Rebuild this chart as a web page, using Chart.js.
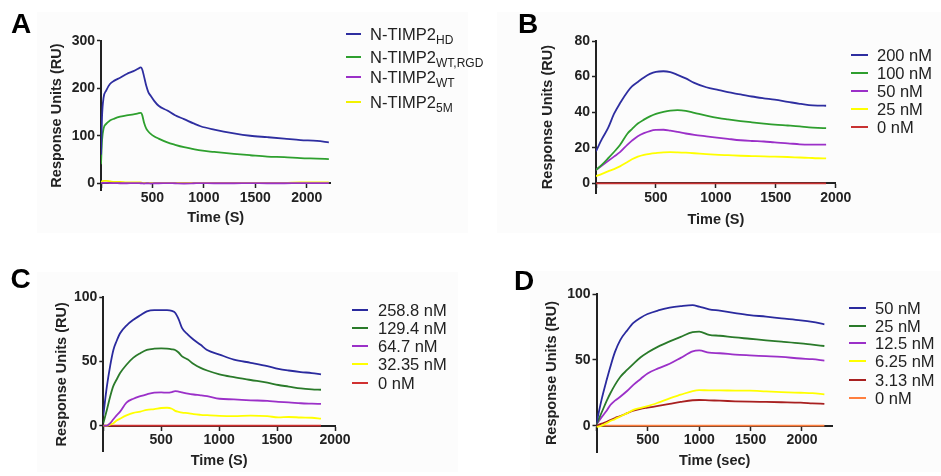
<!DOCTYPE html>
<html><head><meta charset="utf-8">
<script src="https://cdn.jsdelivr.net/npm/chart.js@4.4.0/dist/chart.umd.min.js"></script>
<style>
html,body{margin:0;padding:0;background:#fff;}
#wrap{position:relative;width:941px;height:476px;overflow:hidden;font-family:'Liberation Sans',Arial,sans-serif;background:#fff;}
canvas{position:absolute;left:0;top:0;}
.bg{position:absolute;background:#fcfcfc;}
.letter{position:absolute;font-weight:bold;font-size:28px;line-height:28px;color:#000;}
.row{position:absolute;font-size:16.5px;line-height:20px;height:20px;color:#222;white-space:nowrap;}
.sw{position:absolute;height:2px;}
.row sub{font-size:12px;vertical-align:-4px;line-height:0;}
</style></head>
<body>
<div id="wrap">
  <div class="bg" style="left:37px;top:12px;width:431px;height:221px"></div>
  <div class="bg" style="left:497px;top:12px;width:444px;height:221px"></div>
  <div class="bg" style="left:37px;top:272px;width:421px;height:200px"></div>
  <div class="bg" style="left:530px;top:271px;width:411px;height:201px"></div>
  <canvas id="cA" width="941" height="476"></canvas>
  <canvas id="cB" width="941" height="476"></canvas>
  <canvas id="cC" width="941" height="476"></canvas>
  <canvas id="cD" width="941" height="476"></canvas>
  <div class="letter" style="left:11px;top:10px">A</div>
  <div class="letter" style="left:518px;top:9.5px">B</div>
  <div class="letter" style="left:10.5px;top:264.5px">C</div>
  <div class="letter" style="left:514px;top:266.5px">D</div>
</div>
<script>
// ---------- Panel A ----------
const timeA = [0,10,25,50,87,130,186,250,316,360,386,400,418,440,460,483,515,560,645,720,807,900,968,1100,1292,1450,1616,1780,1940,2100,2215];
const hdA   = [60,140,180,195,209,216,222,230,236,241,244,240,225,205,192,184,174,163,153,143,135,126,120,113,105,100,97,94,91,89,86];
const rgdA  = [40,90,115,125,132,136,140,143,145,147,148,144,128,115,109,104,99,94,86,81,76,72,69,66,62,59,56,55,53,52,51];
const wtA   = [0,1,1,1,0.5,0.5,0,0,0.5,0.5,0,0,-0.5,0,0,-0.5,0,0,0.5,0,-0.5,0,0.5,0,0,0.5,0,0,0.5,0.5,0.5];
const m5A   = [2,4,5,5,4,3,3,2,2,2,2,1,1,1,1,1,1,1,1,1,1,1,1,1,1,1,1,1,2,2,2];
const subsA = ['HD','WT,RGD','WT','5M'];
const prefixA = 'N-TIMP2';
const yTicksA = [0,100,200,300];

// ---------- Panel B ----------
const timeB = [0,50,100,150,200,263,300,349,400,450,500,563,620,680,749,820,920,1026,1100,1206,1300,1400,1491,1600,1700,1777,1850,1920];
const b200 = [18,25,31,39,45,51.5,54.5,57,59.5,61.5,62.7,63,62.5,61,59,56.5,54,52.4,51.2,50,48.8,47.8,47,45.8,44.7,44,43.7,43.6];
const b100 = [7.5,10.5,14,17.6,21.5,28,30.5,33.6,35.8,37.6,39,40.2,40.9,41.1,40.7,39.6,38,36.6,35.9,35,34.3,33.6,33,32.5,32,31.5,31.2,31];
const b50  = [7.5,10,12.5,15,17.5,21.8,24,26.5,28.2,29.4,30,30.1,29.6,28.9,28,27.2,26.4,25.6,25,24.2,23.8,23.5,23,22.5,21.9,21.7,21.7,21.8];
const b25  = [4,5.3,6.7,8,9.5,12,13.5,15,16,16.6,17,17.4,17.5,17.4,17.2,16.9,16.4,16,15.8,15.5,15.3,15.1,15,14.8,14.5,14.3,14.1,14];
const b0   = [0,0,0,0,0,0,0,0,0,0,0,0,0,0,0,0,0,0,0,0,0,0,0,0,0,0,0,0];
const labelsB = ['200 nM','100 nM','50 nM','25 nM','0 nM'];
const yTicksB = [0,20,40,60,80];

// ---------- Panel C ----------
const timeC = [0,30,60,87,115,145,200,260,320,376,440,500,550,592,620,650,680,730,780,840,896,1003,1127,1272,1416,1511,1600,1705,1800,1879];
const c258 = [8,30,47,59,66,72,78,82.5,86,89,90,90,90,89.4,88,83,76,71,67,63,59,55.4,51.5,49,46.4,44.3,43,41.8,41,40];
const c129 = [2,12,23,31,36,41,47.5,53,56.5,59,60,60.3,60,59.5,59,57,54,51.5,48,45,43,40,37.8,35.6,33.5,31.7,30.5,29,28.3,28];
const c64  = [0,0,2,5,8,11,18,21,23,24.5,25.8,26,25.7,26.2,27,26.6,26,25,24.3,23.7,23,21,20.5,19.8,19.3,18.5,18.2,17.5,17.2,17];
const c32  = [0,0,1,2,4,5.5,8,10,11,12.4,13,13.8,14,13.2,11.6,10.8,10.2,9.8,9,8.5,8.2,7.7,7.5,7.8,7.4,6.5,6.8,6.4,6.2,5.5];
const c0   = [0,0,0,0,0,0,0,0,0,0,0,0,0,0,0,0,0,0,0,0,0,0,0,0,0,0,0,0,0,0];
const labelsC = ['258.8 nM','129.4 nM','64.7 nM','32.35 nM','0 nM'];
const yTicksC = [0,50,100];

// ---------- Panel D ----------
const timeD = [0,50,100,135,180,231,300,359,430,497,600,712,820,936,1000,1096,1200,1350,1490,1650,1800,1987,2100,2218];
const d50  = [2,20,35,44.8,56,65,72.5,78,82,84.8,87.5,89.6,90.8,91.6,90.4,88.4,87.3,85.5,84,82.8,81.5,80,78.8,77];
const d25  = [1,10,19,24.6,31,37,42.5,47,52,55.5,60,64,67.5,71,71.4,69,68.3,67,66,64.8,63.8,62.5,61.5,60.5];
const d12  = [1,6.5,11.5,15.7,19,22,26.5,31,35.5,39.7,43.5,47,51.5,56.5,57.2,55.4,55,54,53.4,52.8,52.2,51,50.5,49.4];
const d6   = [-1,0,2,3.5,5,7,9.5,12,13.5,14.8,17.5,20.8,23.5,26.3,27,26.8,26.8,26.6,26.6,26,25.5,25,24.7,23.8];
const d3   = [0,1.5,3,4.3,5.8,7.3,9.5,11.4,12.8,13.7,15,16.5,18,19.3,19.5,19.2,19,18.5,18.2,18,17.8,17.5,17,16.5];
const d0   = [0,0,0,0,0,0,0,0,0,0,0,0,0,0,0,0,0,0,0,0,0,0,0,0];
const labelsD = ['50 nM','25 nM','12.5 nM','6.25 nM','3.13 nM','0 nM'];
const yTicksD = [0,50,100];

const xTicks = [500,1000,1500,2000];

// ---------- styles ----------
const FONT = "'Liberation Sans', Arial, sans-serif";
const INK = '#222';

function pts(t, v){ return t.map((x,i)=>({x:x, y:v[i]})); }

function makePanel(id, p){
  const ds = p.series.map((s,i)=>({
    label: p.labels[i],
    data: pts(p.time, s),
    borderColor: p.colors[i],
    backgroundColor: p.colors[i],
    borderWidth: 1.8,
    pointRadius: 0,
    fill: false,
    cubicInterpolationMode: 'monotone'
  }));
  const tickFont = {family: FONT, size: 14, weight: 'bold'};
  const titleFont = {family: FONT, size: 14.5, weight: 'bold'};
  new Chart(document.getElementById(id), {
    type: 'line',
    data: {datasets: ds},
    options: {
      responsive: false, animation: false, devicePixelRatio: 1,
      layout: {padding: p.pad},
      plugins: {legend: {display: false}, tooltip: {enabled: false}},
      scales: {
        x: {
          type: 'linear', min: 0, max: p.xMax, position: {y: 0},
          afterBuildTicks: s => { s.ticks = [0].concat(xTicks).filter(v=>v<=p.xMax).map(v=>({value:v})); },
          ticks: {color: INK, font: tickFont, padding: 2, maxRotation: 0, autoSkip: false,
                  callback: v => (v === 0 ? '' : String(v))},
          grid: {drawOnChartArea: false, drawTicks: true, tickLength: 4, tickWidth: 1.5, tickColor: INK},
          border: {display: true, color: INK, width: 2},
          title: {display: true, text: p.xTitle, color: INK, font: titleFont, padding: 0},
          afterFit: s => { s.height = p.xH; }
        },
        y: {
          type: 'linear', min: p.yMin, max: p.yMax, position: 'left',
          afterBuildTicks: s => { s.ticks = p.yTicks.map(v=>({value:v})); },
          ticks: {color: INK, font: tickFont, padding: 2, autoSkip: false},
          grid: {drawOnChartArea: false, drawTicks: true, tickLength: 4, tickWidth: 1.5, tickColor: INK},
          border: {display: true, color: INK, width: 2},
          title: {display: true, text: 'Response Units (RU)', color: INK, font: titleFont, padding: 0},
          afterFit: s => { s.width = p.yW; }
        }
      }
    }
  });
}

const cA = ['#2e2ea0','#2ea02e','#9b30c8','#f2f200'];
const cB = ['#2e2ea0','#2e9e2e','#9b30c8','#ffff00','#c83232'];
const cC = ['#2a2a9e','#2a7a2a','#9b30c8','#ffff00','#d03030'];
const cD = ['#2a2a9e','#2a7a2a','#9b30c8','#ffff00','#a82020','#ff7f3f'];

makePanel('cA', {time: timeA, series: [hdA, rgdA, wtA, m5A], labels: subsA.map(s=>prefixA+s), colors: cA,
  xMax: 2230, yMin: -15, yMax: 300, yTicks: yTicksA, xTitle: 'Time (S)',
  pad: {left: 48.3, top: 40.7, right: 610.6, bottom: 285.6}, yW: 52.7, xH: 43.1});
makePanel('cB', {time: timeB, series: [b200, b100, b50, b25, b0], labels: labelsB, colors: cB,
  xMax: 2000, yMin: -5.5, yMax: 80, yTicks: yTicksB, xTitle: 'Time (S)',
  pad: {left: 539.3, top: 41, right: 105.3, bottom: 282.9}, yW: 56.7, xH: 45.1});
makePanel('cC', {time: timeC, series: [c258, c129, c64, c32, c0], labels: labelsC, colors: cC,
  xMax: 2000, yMin: -20, yMax: 100, yTicks: yTicksC, xTitle: 'Time (S)',
  pad: {left: 53.3, top: 297.3, right: 606, bottom: 24.6}, yW: 50, xH: 44.4});
makePanel('cD', {time: timeD, series: [d50, d25, d12, d6, d3, d0], labels: labelsD, colors: cD,
  xMax: 2300, yMin: -20, yMax: 100, yTicks: yTicksD, xTitle: 'Time (sec)',
  pad: {left: 543, top: 294, right: 108.2, bottom: 24}, yW: 53.5, xH: 44.4});

// ---------- legends (HTML, real text) ----------
const wrap = document.getElementById('wrap');
function legend(items, colors, lineX, lineW, textX, rowsY){
  items.forEach((it,i)=>{
    const sw = document.createElement('div');
    sw.className = 'sw';
    sw.style.left = lineX + 'px'; sw.style.top = (rowsY[i]-1) + 'px';
    sw.style.width = lineW + 'px'; sw.style.background = colors[i];
    wrap.appendChild(sw);
    const r = document.createElement('div');
    r.className = 'row';
    r.style.left = textX + 'px'; r.style.top = (rowsY[i]-10) + 'px';
    if (typeof it === 'string') r.textContent = it;
    else { r.appendChild(document.createTextNode(it[0])); const sb = document.createElement('sub'); sb.textContent = it[1]; r.appendChild(sb); }
    wrap.appendChild(r);
  });
}
legend(subsA.map(s=>[prefixA, s]), cA, 346, 15, 370, [34, 56.5, 77, 102]);
legend(labelsB, cB, 851, 17, 877, [55, 72.5, 90.5, 108.5, 126.5]);
legend(labelsC, cC, 352, 16, 378, [310, 328, 346, 364, 382.5]);
legend(labelsD, cD, 848.5, 17.5, 875, [308, 325.5, 343, 361.3, 379.5, 397.5]);
</script>
</body></html>
